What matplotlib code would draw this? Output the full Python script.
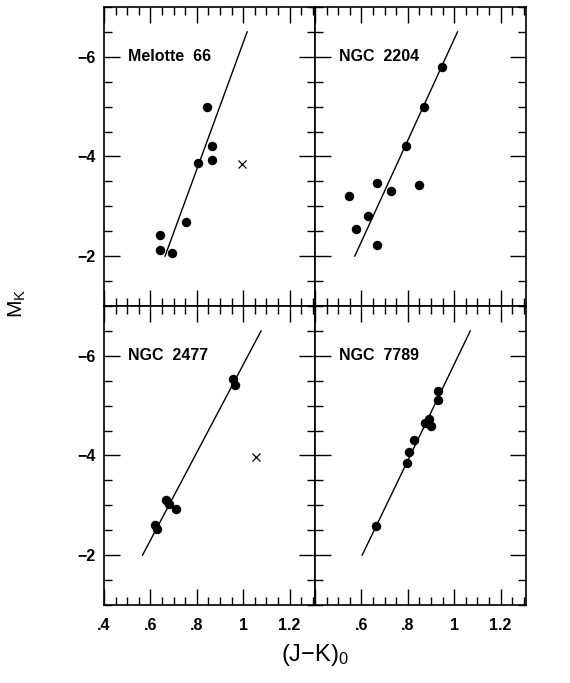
"""
Infrared colour-magnitude diagrams, M_K vs (J-K)_0, for four open clusters.
"""

import matplotlib
matplotlib.use('Agg')
import matplotlib.pyplot as plt
from matplotlib.ticker import MultipleLocator, FixedLocator, FixedFormatter

plt.rcParams['font.family'] = ['Liberation Sans', 'DejaVu Sans']
plt.rcParams['mathtext.fontset'] = 'custom'
plt.rcParams['mathtext.rm'] = 'Liberation Sans'
plt.rcParams['mathtext.it'] = 'Liberation Sans'

# Data
# ----------------------------------------------------------------------------

names = ['Melotte  66', 'NGC  2204', 'NGC  2477', 'NGC  7789']

mel66_jk = [0.844, 0.867, 0.867, 0.804, 0.753, 0.640, 0.640, 0.693]
mel66_mk = [-4.99, -4.21, -3.92, -3.87, -2.69, -2.42, -2.13, -2.07]

n2204_jk = [0.946, 0.871, 0.790, 0.667, 0.727, 0.850, 0.547, 0.627, 0.576, 0.667]
n2204_mk = [-5.79, -5.00, -4.22, -3.47, -3.30, -3.43, -3.20, -2.81, -2.55, -2.22]

n2477_jk = [0.954, 0.964, 0.669, 0.680, 0.711, 0.621, 0.630]
n2477_mk = [-5.53, -5.42, -3.11, -3.02, -2.93, -2.61, -2.52]

n7789_jk = [0.929, 0.931, 0.889, 0.874, 0.901, 0.827, 0.806, 0.797, 0.664]
n7789_mk = [-5.29, -5.12, -4.73, -4.65, -4.60, -4.31, -4.07, -3.85, -2.59]

# rejected stars (crosses), None where a panel has none
cross_jk = [0.997, None, 1.057, None]
cross_mk = [-3.85, None, -3.97, None]

# end points of the fitted lines: (J-K)_0 at M_K = -2.0 and -6.5
line_mk = [-2.0, -6.5]
line_jk = [[0.663, 1.017], [0.571, 1.014], [0.566, 1.077], [0.603, 1.069]]

xticks = [0.4, 0.6, 0.8, 1.0, 1.2]
xticklabels = ['.4', '.6', '.8', '1', '1.2']
yticks = [-6, -4, -2]
yticklabels = ['\u22126', '\u22124', '\u22122']

points_jk = [mel66_jk, n2204_jk, n2477_jk, n7789_jk]
points_mk = [mel66_mk, n2204_mk, n2477_mk, n7789_mk]

# Four panels sharing axes
# ----------------------------------------------------------------------------

fig = plt.figure(figsize=(5.7, 6.83), dpi=100)

left, width = 0.1825, 0.3703
bottom, height = 0.1142, 0.4378
positions = [
    [left, bottom + height, width, height],
    [left + width, bottom + height, width, height],
    [left, bottom, width, height],
    [left + width, bottom, width, height],
]

for i in range(4):
    ax = fig.add_axes(positions[i])
    ax.plot(line_jk[i], line_mk, color='black', lw=1.0)
    ax.plot(points_jk[i], points_mk[i], 'o', color='black', ms=6.8, mew=0)
    if cross_jk[i] is not None:
        ax.plot(cross_jk[i], cross_mk[i], 'x', color='black', ms=5.5, mew=0.9)
    ax.text(0.503, -6.0, names[i], fontsize=11.5, fontweight='bold',
            va='center', ha='left')

    ax.set_xlim(0.4, 1.31)
    ax.set_ylim(-1.0, -7.0)

    ax.xaxis.set_major_locator(FixedLocator(xticks))
    ax.xaxis.set_minor_locator(MultipleLocator(0.05))
    ax.yaxis.set_major_locator(FixedLocator(yticks))
    ax.yaxis.set_minor_locator(MultipleLocator(0.5))
    ax.tick_params(which='both', direction='in', top=True, right=True,
                   width=1.0, labelsize=11.5)
    ax.tick_params(which='major', length=11.5)
    ax.tick_params(axis='x', which='major', pad=9)
    ax.tick_params(axis='y', which='major', pad=6)
    ax.tick_params(which='minor', length=6)
    for s in ax.spines.values():
        s.set_linewidth(1.2)

    if i == 2:
        ax.xaxis.set_major_formatter(FixedFormatter(xticklabels))
    elif i == 3:
        ax.xaxis.set_major_formatter(FixedFormatter([''] + xticklabels[1:]))
    else:
        ax.set_xticklabels([])

    if i in (0, 2):
        ax.yaxis.set_major_formatter(FixedFormatter(yticklabels))
    else:
        ax.set_yticklabels([])

    for lab in ax.get_xticklabels() + ax.get_yticklabels():
        lab.set_fontweight('bold')

fig.text(0.03, 0.556, r'M$_\mathrm{K}$', rotation=90, fontsize=15,
         ha='center', va='center')
fig.text(left + width, 0.022, r'(J$-$K)$_0$', fontsize=17,
         ha='center', va='bottom')

fig.savefig('out.png', dpi=100)
